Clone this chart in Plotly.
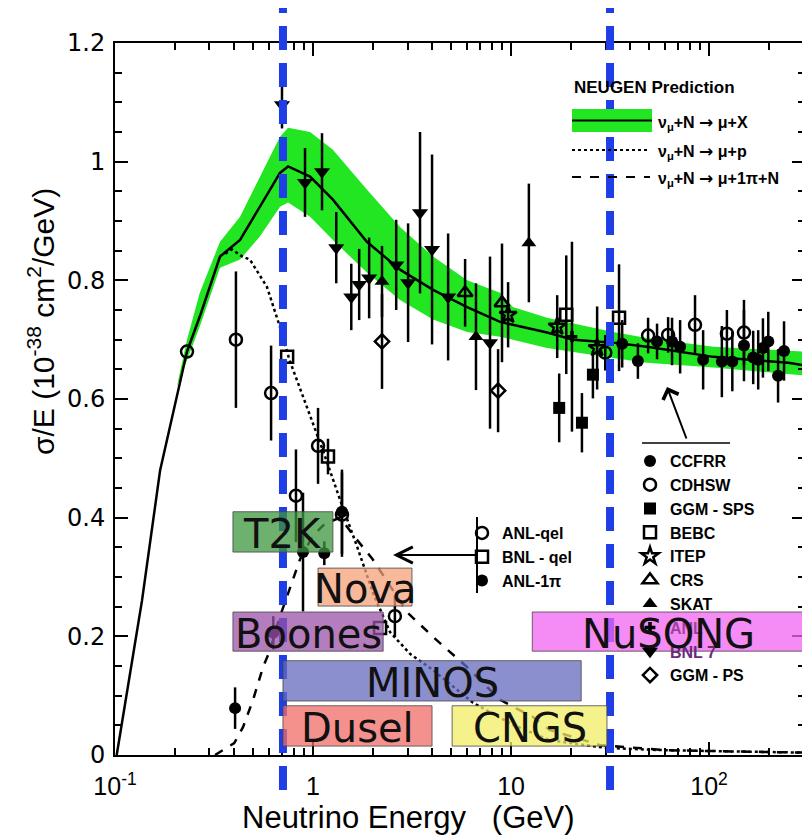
import math
import plotly.graph_objects as go

# ---------------- NEUGEN prediction curves ----------------
tot_E = [0.102, 0.137, 0.169, 0.231, 0.268, 0.339, 0.428, 0.539, 0.681, 0.748, 0.966, 1.26, 1.87,
         2.75, 4.04, 6.0, 8.8, 10.2, 15.2, 20.6, 32.7, 48.6, 105, 251, 300]
tot_y = [0.0, 0.261, 0.48, 0.680, 0.739, 0.840, 0.868, 0.924, 0.981, 0.992, 0.975, 0.936, 0.865,
         0.818, 0.784, 0.755, 0.730, 0.725, 0.712, 0.700, 0.695, 0.688, 0.671, 0.661, 0.657]

band_E = [0.205, 0.231, 0.268, 0.339, 0.428, 0.539, 0.681, 0.748, 0.966, 1.26, 1.87, 2.75, 4.04,
          6.0, 8.8, 10.2, 15.2, 32.7, 48.6, 105, 300]
band_hi = [0.62, 0.70, 0.779, 0.865, 0.907, 0.975, 1.042, 1.057, 1.05, 1.02, 0.953, 0.89, 0.84,
           0.80, 0.779, 0.755, 0.737, 0.713, 0.703, 0.688, 0.68]
band_lo = [0.62, 0.665, 0.722, 0.821, 0.835, 0.874, 0.924, 0.931, 0.907, 0.868, 0.813, 0.767, 0.734,
           0.713, 0.705, 0.70, 0.686, 0.669, 0.661, 0.653, 0.640]

qel_E = [0.36, 0.39, 0.44, 0.48, 0.585, 0.68, 0.76, 0.93, 1.12, 1.37, 1.67, 2.01, 2.45, 3.1, 4.04,
         6.43, 10.2, 15.7, 30, 60, 150, 300]
qel_y = [0.845, 0.852, 0.84, 0.835, 0.789, 0.722, 0.666, 0.587, 0.514, 0.43, 0.351, 0.273, 0.207,
         0.17, 0.143, 0.088, 0.051, 0.025, 0.012, 0.008, 0.005, 0.004]

res_E = [0.32, 0.339, 0.40, 0.443, 0.498, 0.559, 0.607, 0.68, 0.86, 1.0, 1.15, 1.37, 1.6, 2.0, 3.0,
         4.04, 6.0, 8.8, 12.9, 15.7, 28, 60, 300]
res_y = [0.0, 0.005, 0.02, 0.047, 0.093, 0.148, 0.177, 0.233, 0.33, 0.37, 0.39, 0.40, 0.37, 0.33,
         0.24, 0.199, 0.148, 0.093, 0.064, 0.042, 0.017, 0.008, 0.004]

# ---------------- measurements ----------------
ccfrr_E = [36.4, 43.7, 54.6, 65.0, 71.4, 93.3, 116, 131, 150, 167, 177, 187, 199, 223, 239]
ccfrr_y = [0.693, 0.664, 0.697, 0.697, 0.688, 0.666, 0.663, 0.663, 0.690, 0.670, 0.666, 0.686, 0.697, 0.639, 0.681]
ccfrr_err = [0.04, 0.03, 0.03, 0.04, 0.045, 0.05, 0.06, 0.05, 0.06, 0.045, 0.05, 0.05, 0.05, 0.045, 0.05]

cdhsw_E = [29.9, 49.2, 62.1, 84.9, 123, 150]
cdhsw_y = [0.678, 0.707, 0.708, 0.725, 0.710, 0.712]
cdhsw_err = [0.03, 0.03, 0.03, 0.05, 0.04, 0.055]

ggmsps_E = [17.5, 22.8, 25.9]
ggmsps_y = [0.585, 0.560, 0.641]
ggmsps_err = [0.058, 0.05, 0.04]

bebc_E = [19.0, 35.1]
bebc_y = [0.742, 0.737]
bebc_err = [0.10, 0.09]

itep_E = [9.66, 17.1, 27.2]
itep_y = [0.742, 0.722, 0.686]
itep_err = [0.055, 0.053, 0.07]

crs_E = [5.86, 9.0]
crs_y = [0.779, 0.762]
crs_err = [0.057, 0.10]

skat_E = [2.23, 6.65, 12.3]
skat_y = [0.798, 0.705, 0.863]
skat_err = [0.06, 0.09, 0.10]

anl_E = [20.3]
anl_y = [0.705]
anl_err = [0.16]

bnl7_E = [0.697, 0.911, 1.11, 1.31, 1.56, 1.71, 1.92, 2.63, 3.02, 3.47, 3.99, 4.81, 7.83]
bnl7_y = [1.096, 0.965, 0.983, 0.855, 0.772, 0.793, 0.804, 0.826, 0.796, 0.914, 0.852, 0.772, 0.695]
bnl7_err = [0.04, 0.058, 0.065, 0.06, 0.056, 0.06, 0.068, 0.076, 0.10, 0.136, 0.16, 0.107, 0.145]

ggmps_E = [2.23, 8.6]
ggmps_y = [0.697, 0.614]
ggmps_err = [0.08, 0.07]

anlqel_E = [0.231, 0.408, 0.614, 0.82, 1.06, 1.40, 2.59]
anlqel_y = [0.680, 0.700, 0.610, 0.437, 0.521, 0.405, 0.234]
anlqel_err = [0.0, 0.115, 0.08, 0.078, 0.064, 0.071, 0.035]

bnlqel_E = [0.74, 1.19, 2.18]
bnlqel_y = [0.671, 0.503, 0.214]
bnlqel_err = [0.0, 0.03, 0.0]

anl1pi_E = [0.404, 0.63, 0.89, 1.14, 1.40]
anl1pi_y = [0.079, 0.206, 0.342, 0.340, 0.410]
anl1pi_err = [0.035, 0.028, 0.1, 0.02, 0.071]

# ---------------- experiment energy windows ----------------
exp_names = ["T2K", "Nova", "Boones", "MINOS", "Dusel", "CNGS", "NuSONG"]
exp_E_lo = [0.394, 1.06, 0.394, 0.705, 0.705, 5.04, 12.8]
exp_E_hi = [1.26, 3.16, 2.26, 22.6, 3.99, 30.5, 305]
exp_y_lo = [0.342, 0.251, 0.175, 0.091, 0.015, 0.015, 0.175]
exp_y_hi = [0.410, 0.315, 0.241, 0.159, 0.083, 0.083, 0.241]
exp_colors = ["rgba(62,150,62,0.75)", "rgba(246,162,122,0.75)", "rgba(155,82,168,0.75)",
              "rgba(102,106,188,0.75)", "rgba(242,108,102,0.75)", "rgba(242,238,102,0.75)",
              "rgba(242,102,242,0.75)"]

beam_lines_E = [0.705, 31.6]

x_tick_vals = [0.1, 1, 10, 100]
x_tick_text = ["10<sup>-1</sup>", "1", "10", "10<sup>2</sup>"]

# ---------------- figure geometry (page body has an 8px margin) ----------------
OFF = 8
W, H = 810 - OFF, 838 - OFF
L, R, T = 115 - OFF, 5, 43 - OFF
B = H - (755 - OFF)
PW, PH = W - L - R, H - T - B


def px(xs):  # screen x -> paper
    return (xs - OFF - L) / PW


def py(ys):  # screen y -> paper
    return (H - B - (ys - OFF)) / PH


fig = go.Figure()

fig.add_trace(go.Scatter(x=band_E, y=band_lo, mode="lines", line=dict(width=0, color="#22e622"),
                         showlegend=False, hoverinfo="skip"))
fig.add_trace(go.Scatter(x=band_E, y=band_hi, mode="lines", line=dict(width=0, color="#22e622"),
                         fill="tonexty", fillcolor="#22e622", showlegend=False, hoverinfo="skip"))
fig.add_trace(go.Scatter(x=tot_E, y=tot_y, mode="lines", line=dict(color="black", width=2.5),
                         showlegend=False))
fig.add_trace(go.Scatter(x=qel_E, y=qel_y, mode="lines", line=dict(color="black", width=2.5, dash="dot"),
                         showlegend=False))
fig.add_trace(go.Scatter(x=res_E, y=res_y, mode="lines", line=dict(color="black", width=2.5, dash="dash"),
                         showlegend=False))


def add_data(name, E, y, err, symbol, size=12, legend="legend"):
    fig.add_trace(go.Scatter(
        x=E, y=y, mode="markers", name=name, legend=legend,
        error_y=dict(type="data", array=err, width=0, thickness=2.5, color="black"),
        marker=dict(symbol=symbol, size=size, color="black",
                    line=dict(width=2.5 if "open" in symbol else 0, color="black")),
    ))


add_data("CCFRR", ccfrr_E, ccfrr_y, ccfrr_err, "circle", 12)
add_data("CDHSW", cdhsw_E, cdhsw_y, cdhsw_err, "circle-open", 12)
add_data("GGM - SPS", ggmsps_E, ggmsps_y, ggmsps_err, "square", 12)
add_data("BEBC", bebc_E, bebc_y, bebc_err, "square-open", 12)
add_data("ITEP", itep_E, itep_y, itep_err, "star-open", 13)
add_data("CRS", crs_E, crs_y, crs_err, "triangle-up-open", 13)
add_data("SKAT", skat_E, skat_y, skat_err, "triangle-up", 13)
add_data('<span style="color:#a040a0">ANL</span>', anl_E, anl_y, anl_err, "cross", 9)
add_data('<span style="color:#6a2a7a">BNL 7</span>', bnl7_E, bnl7_y, bnl7_err, "triangle-down", 14)
add_data("GGM - PS", ggmps_E, ggmps_y, ggmps_err, "diamond-open", 11)

add_data("ANL-qel", anlqel_E, anlqel_y, anlqel_err, "circle-open", 12, "legend2")
add_data("BNL - qel", bnlqel_E, bnlqel_y, bnlqel_err, "square-open", 12, "legend2")
add_data("ANL-1π", anl1pi_E, anl1pi_y, anl1pi_err, "circle", 12, "legend2")

shapes = []
for e in beam_lines_E:
    shapes.append(dict(type="line", xref="x", yref="paper", x0=e, x1=e, y0=py(790), y1=py(5),
                       line=dict(color="#1f3fe6", width=8, dash="24px,13px"), layer="above"))
for n, e0, e1, y0, y1, c in zip(exp_names, exp_E_lo, exp_E_hi, exp_y_lo, exp_y_hi, exp_colors):
    shapes.append(dict(type="rect", xref="x", yref="y", x0=e0, x1=e1, y0=y0, y1=y1,
                       fillcolor=c, line=dict(color="rgba(70,70,70,0.8)", width=1), layer="above"))

# NEUGEN legend key
shapes.append(dict(type="rect", xref="paper", yref="paper", x0=px(572), x1=px(652), y0=py(132), y1=py(109),
                   fillcolor="#22e622", line=dict(width=0)))
shapes.append(dict(type="line", xref="paper", yref="paper", x0=px(572), x1=px(652), y0=py(120.5), y1=py(120.5),
                   line=dict(color="black", width=2)))
shapes.append(dict(type="line", xref="paper", yref="paper", x0=px(572), x1=px(650), y0=py(150), y1=py(150),
                   line=dict(color="black", width=2, dash="dot")))
shapes.append(dict(type="line", xref="paper", yref="paper", x0=px(572), x1=px(650), y0=py(177), y1=py(177),
                   line=dict(color="black", width=2, dash="dash")))
shapes.append(dict(type="line", xref="paper", yref="paper", x0=px(642), x1=px(730), y0=py(443), y1=py(443),
                   line=dict(color="black", width=1.5)))
shapes.append(dict(type="line", xref="paper", yref="paper", x0=px(477), x1=px(477), y0=py(517), y1=py(593),
                   line=dict(color="black", width=2)))

annotations = []
for n, e0, e1, y0, y1 in zip(exp_names, exp_E_lo, exp_E_hi, exp_y_lo, exp_y_hi):
    annotations.append(dict(x=0.5 * (math.log10(e0) + math.log10(e1)), y=0.5 * (y0 + y1), xref="x", yref="y",
                            xanchor="center", yanchor="middle",
                            text=n, showarrow=False, font=dict(family="DejaVu Sans", size=40, color="#111"),
                            yshift=-2))

lf = dict(family="Liberation Sans", size=16, color="black", weight="bold")
arr = '<span style="font-family:DejaVu Sans;font-size:17px">→</span>'


def note(xs, ys, text, font, xanchor="left", **kw):
    return dict(x=px(xs), y=py(ys), xref="paper", yref="paper", xanchor=xanchor, yanchor="middle",
                text=text, showarrow=False, font=font, **kw)


annotations += [
    note(572, 87, "NEUGEN Prediction", dict(family="Liberation Sans", size=17, color="black", weight="bold")),
    note(656, 122, "ν<sub>μ</sub>+N " + arr + " μ+X", lf),
    note(656, 151, "ν<sub>μ</sub>+N " + arr + " μ+p", lf),
    note(656, 178, "ν<sub>μ</sub>+N " + arr + " μ+1π+N", lf),
    dict(x=px(667), y=py(387), xref="paper", yref="paper", ax=20, ay=53, text="", showarrow=True,
         arrowhead=4, arrowsize=1.6, arrowwidth=2, arrowcolor="black", standoff=0),
    dict(x=px(393), y=py(555), xref="paper", yref="paper", ax=84, ay=0, text="", showarrow=True,
         arrowhead=5, arrowsize=1.6, arrowwidth=2, arrowcolor="black", standoff=0),
    note(408, 817, "Neutrino Energy   (GeV)", dict(family="Liberation Sans", size=31, color="black"),
         xanchor="center"),
    note(41, 322, "σ/E (10<sup>-38</sup> cm<sup>2</sup>/GeV)",
         dict(family="Liberation Sans", size=30, color="black"), xanchor="center", textangle=-90),
]

minor_x = [m * 10 ** d for d in (-1, 0, 1, 2) for m in range(2, 10)]

fig.update_layout(
    width=W, height=H, margin=dict(l=L, r=R, t=T, b=B, autoexpand=False),
    paper_bgcolor="white", plot_bgcolor="white",
    shapes=shapes, annotations=annotations,
    xaxis=dict(type="log", range=[-1, math.log10(305)], showgrid=False, zeroline=False,
               showline=True, linecolor="black", linewidth=2, mirror="ticks",
               ticks="inside", ticklen=13, tickwidth=1.5, tickcolor="black",
               tickvals=x_tick_vals, ticktext=x_tick_text, ticklabelstandoff=8,
               tickfont=dict(family="Liberation Sans", size=25, color="black"),
               minor=dict(tickvals=minor_x, ticks="inside", ticklen=7, tickwidth=1.5, tickcolor="black",
                          showgrid=False)),
    yaxis=dict(range=[0, 1.2], showgrid=False, zeroline=False,
               showline=True, linecolor="black", linewidth=2, mirror="ticks",
               ticks="inside", ticklen=13, tickwidth=1.5, tickcolor="black",
               tickvals=[0, 0.2, 0.4, 0.6, 0.8, 1.0, 1.2], ticktext=["0", "0.2", "0.4", "0.6", "0.8", "1", "1.2"],
               ticklabelstandoff=3,
               tickfont=dict(family="DejaVu Sans", size=24, color="black"),
               minor=dict(dtick=0.05, ticks="inside", ticklen=7, tickwidth=1.5, tickcolor="black",
                          showgrid=False)),
    legend=dict(x=px(630), y=py(444), xanchor="left", yanchor="top", bgcolor="rgba(0,0,0,0)",
                font=dict(family="Liberation Sans", size=16, color="black", weight="bold"),
                traceorder="normal", tracegroupgap=0, itemwidth=30),
    legend2=dict(x=px(462), y=py(516), xanchor="left", yanchor="top", bgcolor="rgba(0,0,0,0)",
                 font=dict(family="Liberation Sans", size=16, color="black", weight="bold"),
                 traceorder="normal", tracegroupgap=0, itemwidth=30),
)

fig.write_html("out.html")
